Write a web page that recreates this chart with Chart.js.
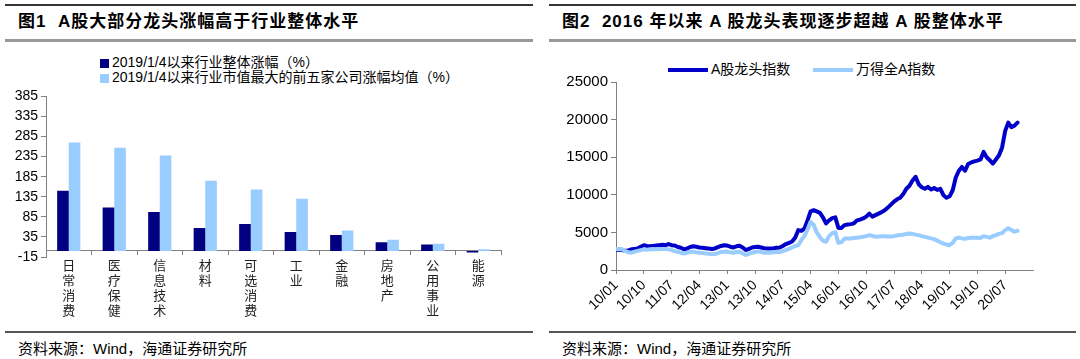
<!DOCTYPE html>
<html lang="zh">
<head>
<meta charset="UTF-8">
<title>A股龙头涨幅</title>
<script src="https://cdn.jsdelivr.net/npm/chart.js"></script>
<style>
body {
    margin: 0;
    width: 1080px;
    height: 359px;
    background: #fff;
    position: relative;
    overflow: hidden;
    font-family: "Liberation Sans", "Noto Sans CJK SC", sans-serif;
    color: #000;
}
.rule { position: absolute; }
.rule.top { top: 4px; height: 2px; background: #333; }
.rule.mid { top: 39px; height: 3px; background: #999; }
.rule.bottom { top: 331px; height: 2px; background: #555; }
.title { position: absolute; top: 12px; font-size: 17px; line-height: 20px; font-weight: bold; white-space: pre; letter-spacing: 1px; }
.source { position: absolute; top: 340px; font-size: 15px; line-height: 18px; white-space: pre; }
.legend { position: absolute; font-size: 14px; line-height: 15px; white-space: nowrap; }
.swatch { display: inline-block; vertical-align: middle; margin-right: 3px; }
canvas { position: absolute; }
</style>
</head>
<body>

<!-- 图1 -->
<div class="rule top" style="left:5px;width:528px"></div>
<div class="title" style="left:18px">图1  A股大部分龙头涨幅高于行业整体水平</div>
<div class="rule mid" style="left:5px;width:528px"></div>
<div id="legend1"></div>
<canvas id="barChart" width="540" height="240" style="left:0;top:85px"></canvas>
<div class="rule bottom" style="left:5px;width:528px"></div>
<div class="source" style="left:18px">资料来源：Wind，海通证券研究所</div>

<!-- 图2 -->
<div class="rule top" style="left:549px;width:527px"></div>
<div class="title" style="left:562px">图2  2016 年以来 A 股龙头表现逐步超越 A 股整体水平</div>
<div class="rule mid" style="left:549px;width:527px"></div>
<div id="legend2"></div>
<canvas id="lineChart" width="540" height="255" style="left:540px;top:70px"></canvas>
<div class="rule bottom" style="left:549px;width:527px"></div>
<div class="source" style="left:562px">资料来源：Wind，海通证券研究所</div>

<script>
    // ---- 图1 data ----
    const industries = ['日常消费', '医疗保健', '信息技术', '材料', '可选消费', '工业', '金融', '房地产', '公用事业', '能源'];
    const barNames = ['2019/1/4以来行业整体涨幅（%）', '2019/1/4以来行业市值最大的前五家公司涨幅均值（%）'];
    const industryGain = [150, 108, 97, 57, 67, 47, 40, 22, 16, -4];
    const leaderGain = [270, 257, 238, 175, 153, 130, 51, 28, 18, 4];
    const barColors = ['#000080', '#99CCFF'];

    // ---- 图2 data (monthly, 2010/01 - 2020/11) ----
    const lineNames = ['A股龙头指数', '万得全A指数'];
    const tickLabels = ['10/01', '10/10', '11/07', '12/04', '13/01', '13/10', '14/07', '15/04', '16/01', '16/10', '17/07', '18/04', '19/01', '19/10', '20/07'];
    const leaderIndex = [
        2700, 2700, 2650, 2550, 2600, 2750, 2800, 2850, 3100, 3300,
        3200, 3150, 3200, 3250, 3300, 3350, 3300, 3450, 3300, 3250,
        3050, 2950, 2750, 2850, 3050, 3150, 3100, 3000, 2950, 2900,
        2850, 2800, 2870, 3050, 3200, 3300, 3250, 3100, 3000, 3150,
        3220, 3000, 2650, 2800, 3000, 3050, 3100, 3000, 2900, 2850,
        2870, 2900, 2950, 3000, 3200, 3450, 3600, 3800, 4300, 5300,
        5200, 5500, 6600, 7800, 7950, 7800, 7600, 7000, 6200, 6600,
        6900, 7000, 5600, 5600, 5970, 6050, 6100, 6200, 6600, 6700,
        6850, 7100, 7500, 7100, 7300, 7500, 7700, 7950, 8300, 8700,
        9100, 9400, 9600, 10100, 10800, 11200, 11900, 12400, 11400, 11000,
        10800, 11050, 10700, 10900, 10650, 10800, 9950, 9600, 9800, 10600,
        12300, 13200, 13700, 13200, 14100, 14300, 14450, 14550, 14700, 15700,
        15000, 14600, 14150, 14700, 15250, 16300, 18500, 19600, 19000, 19200,
        19600
    ];
    const windAllA = [
        2780, 2800, 2750, 2500, 2350, 2300, 2450, 2550, 2650, 2750,
        2700, 2750, 2780, 2750, 2800, 2780, 2800, 2750, 2650, 2500,
        2430, 2300, 2200, 2300, 2430, 2450, 2350, 2300, 2250, 2200,
        2150, 2100, 2120, 2250, 2400, 2430, 2450, 2350, 2300, 2400,
        2430, 2200, 2000, 2150, 2300, 2400, 2480, 2400, 2300, 2300,
        2300, 2350, 2400, 2400, 2500, 2650, 2800, 3000, 3200, 3300,
        4000, 4500, 5400, 6400, 6000, 5000, 4400, 3900, 3750, 4500,
        4900, 5000, 3600, 3700, 4200, 4200, 4200, 4250, 4300, 4350,
        4420, 4500, 4640, 4550, 4420, 4450, 4500, 4500, 4450, 4450,
        4500, 4600, 4650, 4700, 4800, 4860, 4800, 4700, 4640, 4500,
        4400, 4300, 4200, 4100, 3900, 3700, 3500, 3400, 3300, 3600,
        4200, 4300, 4200, 4150, 4250, 4300, 4300, 4300, 4250, 4500,
        4400, 4300, 4500, 4640, 4800, 4900, 5300, 5550, 5300, 5100,
        5200
    ];
    const lineColors = ['#0000C8', '#99CCFF'];

    const latin = "'Liberation Sans', 'Noto Sans CJK SC', sans-serif";
    const cjk = "'Noto Sans CJK SC', sans-serif";
    Chart.defaults.font.family = latin;
    Chart.defaults.color = '#000';

    // HTML legends
    function buildLegends() {
        const l1 = document.getElementById('legend1');
        barNames.forEach((name, i) => {
            const row = document.createElement('div');
            row.className = 'legend';
            row.style.left = '100px';
            row.style.top = (55 + i * 15) + 'px';
            row.innerHTML = '<span class="swatch" style="width:9px;height:9px;background:' + barColors[i] + '"></span>' + name;
            l1.appendChild(row);
        });
        const l2 = document.getElementById('legend2');
        const lefts = [668, 813];
        lineNames.forEach((name, i) => {
            const row = document.createElement('div');
            row.className = 'legend';
            row.style.left = lefts[i] + 'px';
            row.style.top = '62px';
            row.innerHTML = '<span class="swatch" style="width:40px;height:4px;background:' + lineColors[i] + '"></span>' + name;
            l2.appendChild(row);
        });
    }

    function renderBarChart() {
        new Chart(document.getElementById('barChart'), {
            type: 'bar',
            data: {
                labels: industries.map(s => s.split('')),
                datasets: [
                    { label: barNames[0], data: industryGain, backgroundColor: barColors[0], barPercentage: 1, categoryPercentage: 0.51 },
                    { label: barNames[1], data: leaderGain, backgroundColor: barColors[1], barPercentage: 1, categoryPercentage: 0.51 }
                ]
            },
            options: {
                responsive: false,
                animation: false,
                layout: { padding: { top: 8, right: 39, bottom: 68, left: 0 } },
                plugins: { legend: { display: false }, tooltip: { enabled: false } },
                scales: {
                    x: {
                        position: { y: 0 },
                        grid: { drawOnChartArea: false, offset: true, tickLength: 4, color: '#808080' },
                        border: { color: '#808080' },
                        ticks: { font: { size: 13, family: cjk, lineHeight: 1.15 }, color: '#222', maxRotation: 0, autoSkip: false, padding: 3 }
                    },
                    y: {
                        min: -15,
                        max: 385,
                        ticks: { stepSize: 50, font: { size: 14 }, padding: 3 },
                        grid: { drawOnChartArea: false, tickLength: 5, color: '#808080' },
                        border: { color: '#808080' },
                        afterFit: s => { s.width = 46; }
                    }
                }
            }
        });
    }

    function renderLineChart() {
        new Chart(document.getElementById('lineChart'), {
            type: 'line',
            data: {
                datasets: [
                    { label: lineNames[0], data: leaderIndex.map((v, i) => ({ x: i, y: v })), borderColor: lineColors[0], borderWidth: 4, pointRadius: 0, borderJoinStyle: 'round', borderCapStyle: 'round', order: 1 },
                    { label: lineNames[1], data: windAllA.map((v, i) => ({ x: i, y: v })), borderColor: lineColors[1], borderWidth: 4, pointRadius: 0, borderJoinStyle: 'round', borderCapStyle: 'round', order: 0 }
                ]
            },
            options: {
                responsive: false,
                animation: false,
                layout: { padding: { top: 12, right: 47, bottom: 0, left: 0 } },
                plugins: { legend: { display: false }, tooltip: { enabled: false } },
                scales: {
                    x: {
                        type: 'linear',
                        min: 0,
                        max: 135,
                        ticks: {
                            stepSize: 9, includeBounds: false, autoSkip: false,
                            minRotation: 45, maxRotation: 45,
                            font: { size: 14 },
                            callback: v => tickLabels[v / 9]
                        },
                        grid: { drawOnChartArea: false, tickLength: 4, color: '#808080' },
                        border: { color: '#808080' },
                        afterFit: s => { s.height = 55; }
                    },
                    y: {
                        min: 0,
                        max: 25000,
                        ticks: { stepSize: 5000, font: { size: 15 }, padding: 3, callback: v => String(v) },
                        grid: { drawOnChartArea: false, tickLength: 5, color: '#808080' },
                        border: { color: '#808080' },
                        afterFit: s => { s.width = 76; }
                    }
                }
            }
        });
    }

    buildLegends();
    renderBarChart();
    renderLineChart();
</script>
</body>
</html>
